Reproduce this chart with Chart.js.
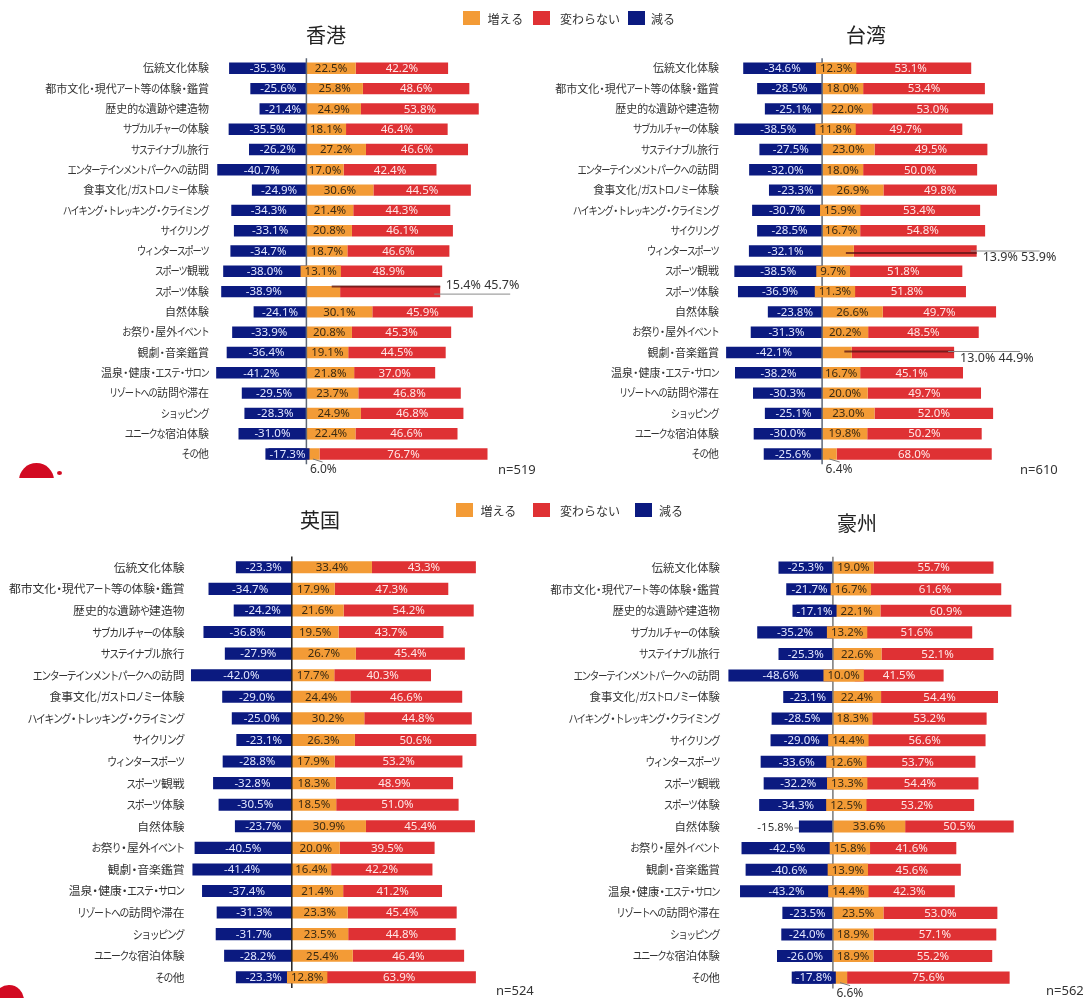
<!DOCTYPE html>
<html lang="ja">
<head>
<meta charset="utf-8">
<script src="https://cdn.jsdelivr.net/npm/chart.js@4.4.1/dist/chart.umd.min.js"></script>
<style>
  body { margin: 0; width: 1092px; height: 998px; background: #fff; position: relative; overflow: hidden;
         font-family: "Noto Sans CJK JP", "Noto Sans", sans-serif; color: #222; }
  canvas { position: absolute; }
  .title { position: absolute; font-size: 20px; transform: translate(-50%, -50%); white-space: nowrap; color: #222; }
  .sw { position: absolute; width: 17px; height: 14px; transform: translateY(-50%); }
  .lt { position: absolute; font-size: 12px; transform: translateY(-50%); white-space: nowrap; color: #333; }
  .n { position: absolute; font-family: "Noto Sans", sans-serif; font-size: 13px; color: #333; transform: translateY(-50%); }
  .logo { position: absolute; overflow: hidden; }
  .logo div { position: absolute; border-radius: 50%; background: #d20a22; }
</style>
</head>
<body>
<canvas id="hk" width="546" height="450" style="left:0;top:40px"></canvas>
<canvas id="tw" width="546" height="450" style="left:546px;top:40px"></canvas>
<canvas id="uk" width="546" height="468" style="left:0;top:530px"></canvas>
<canvas id="au" width="546" height="468" style="left:546px;top:530px"></canvas>

<div class="title" style="left:326px;top:34px">香港</div>
<div class="title" style="left:866px;top:34px">台湾</div>
<div class="title" style="left:320px;top:519px">英国</div>
<div class="title" style="left:857px;top:522px">豪州</div>

<div class="n" style="left:498px;top:469px">n=519</div>
<div class="n" style="left:1020px;top:469px">n=610</div>
<div class="n" style="left:496px;top:990px">n=524</div>
<div class="n" style="left:1046px;top:990px">n=562</div>

<div class="logo" style="left:19px;top:463px;width:46px;height:15px">
  <div style="left:0;top:0;width:35px;height:35px"></div>
  <div style="left:38px;top:8px;width:5px;height:4px"></div>
</div>
<div class="logo" style="left:0;top:985px;width:26px;height:13px">
  <div style="left:-6px;top:0;width:30px;height:30px"></div>
</div>

<script>
const categories = [
  "伝統文化体験", "都市文化・現代アート等の体験・鑑賞", "歴史的な遺跡や建造物", "サブカルチャーの体験",
  "サステイナブル旅行", "エンターテインメントパークへの訪問", "食事文化/ガストロノミー体験",
  "ハイキング・トレッキング・クライミング", "サイクリング", "ウィンタースポーツ", "スポーツ観戦",
  "スポーツ体験", "自然体験", "お祭り・屋外イベント", "観劇・音楽鑑賞", "温泉・健康・エステ・サロン",
  "リゾートへの訪問や滞在", "ショッピング", "ユニークな宿泊体験", "その他"
];
const seriesNames = ["増える", "変わらない", "減る"];
const seriesColors = ["#f39b36", "#df3134", "#0b1a80"];
const seriesTextColors = ["#3a2a12", "#ffe8e8", "#e4e8ff"];

// 香港 n=519
const hkIncrease = [22.5, 25.8, 24.9, 18.1, 27.2, 17.0, 30.6, 21.4, 20.8, 18.7, 13.1, 15.4, 30.1, 20.8, 19.1, 21.8, 23.7, 24.9, 22.4, 6.0];
const hkSame     = [42.2, 48.6, 53.8, 46.4, 46.6, 42.4, 44.5, 44.3, 46.1, 46.6, 48.9, 45.7, 45.9, 45.3, 44.5, 37.0, 46.8, 46.8, 46.6, 76.7];
const hkDecrease = [-35.3, -25.6, -21.4, -35.5, -26.2, -40.7, -24.9, -34.3, -33.1, -34.7, -38.0, -38.9, -24.1, -33.9, -36.4, -41.2, -29.5, -28.3, -31.0, -17.3];

// 台湾 n=610
const twIncrease = [12.3, 18.0, 22.0, 11.8, 23.0, 18.0, 26.9, 15.9, 16.7, 13.9, 9.7, 11.3, 26.6, 20.2, 13.0, 16.7, 20.0, 23.0, 19.8, 6.4];
const twSame     = [53.1, 53.4, 53.0, 49.7, 49.5, 50.0, 49.8, 53.4, 54.8, 53.9, 51.8, 51.8, 49.7, 48.5, 44.9, 45.1, 49.7, 52.0, 50.2, 68.0];
const twDecrease = [-34.6, -28.5, -25.1, -38.5, -27.5, -32.0, -23.3, -30.7, -28.5, -32.1, -38.5, -36.9, -23.8, -31.3, -42.1, -38.2, -30.3, -25.1, -30.0, -25.6];

// 英国 n=524
const ukIncrease = [33.4, 17.9, 21.6, 19.5, 26.7, 17.7, 24.4, 30.2, 26.3, 17.9, 18.3, 18.5, 30.9, 20.0, 16.4, 21.4, 23.3, 23.5, 25.4, 12.8];
const ukSame     = [43.3, 47.3, 54.2, 43.7, 45.4, 40.3, 46.6, 44.8, 50.6, 53.2, 48.9, 51.0, 45.4, 39.5, 42.2, 41.2, 45.4, 44.8, 46.4, 63.9];
const ukDecrease = [-23.3, -34.7, -24.2, -36.8, -27.9, -42.0, -29.0, -25.0, -23.1, -28.8, -32.8, -30.5, -23.7, -40.5, -41.4, -37.4, -31.3, -31.7, -28.2, -23.3];

// 豪州 n=562
const auIncrease = [19.0, 16.7, 22.1, 13.2, 22.6, 10.0, 22.4, 18.3, 14.4, 12.6, 13.3, 12.5, 33.6, 15.8, 13.9, 14.4, 23.5, 18.9, 18.9, 6.6];
const auSame     = [55.7, 61.6, 60.9, 51.6, 52.1, 41.5, 54.4, 53.2, 56.6, 53.7, 54.4, 53.2, 50.5, 41.6, 45.6, 42.3, 53.0, 57.1, 55.2, 75.6];
const auDecrease = [-25.3, -21.7, -17.1, -35.2, -25.3, -48.6, -23.1, -28.5, -29.0, -33.6, -32.2, -34.3, -15.8, -42.5, -40.6, -43.2, -23.5, -24.0, -26.0, -17.8];

// layout of each panel (page pixels)
const panels = {
  hk: { data: [hkIncrease, hkSame, hkDecrease], left: 0, top: 40, h: 450, zero: 306.4, pxPer: 2.19, labelRight: 209,
        row0: 68.3, step: 20.3, labelSize: 11, axis: "#5d6675",
        below: [19], outsideDec: [],
        callouts: [{ row: 11, lineDy: -5, grayDy: 2.5, grayLen: 70, textDx: 5.5, textDy: -6 }] },
  tw: { data: [twIncrease, twSame, twDecrease], left: 546, top: 40, h: 450, zero: 822.1, pxPer: 2.28, labelRight: 719,
        row0: 68.3, step: 20.3, labelSize: 11, axis: "#5d6675",
        below: [19], outsideDec: [],
        callouts: [{ row: 9, lineDy: 2, grayDy: 0, grayLen: 63, textDx: 6, textDy: 6 },
                   { row: 14, lineDy: -1, grayDy: -1, grayLen: 66, textDx: 6, textDy: 6 }] },
  uk: { data: [ukIncrease, ukSame, ukDecrease], left: 0, top: 530, h: 468, zero: 291.8, pxPer: 2.40, labelRight: 184.5,
        row0: 567.3, step: 21.58, labelSize: 11.8, axis: "#222",
        below: [], outsideDec: [], callouts: [] },
  au: { data: [auIncrease, auSame, auDecrease], left: 546, top: 530, h: 468, zero: 832.9, pxPer: 2.15, labelRight: 720,
        row0: 567.6, step: 21.58, labelSize: 11.4, axis: "#777",
        below: [19], outsideDec: [12], callouts: [] }
};

const legendRows = [
  { y: 18, items: [[463, 487.5], [533, 560], [628, 651]] },
  { y: 510, items: [[456, 480.5], [533, 560], [635, 659]] }
];
legendRows.forEach(r => {
  r.items.forEach((it, i) => {
    const sw = document.createElement("div");
    sw.className = "sw";
    sw.style.cssText = `left:${it[0]}px;top:${r.y}px;background:${seriesColors[i]}`;
    document.body.appendChild(sw);
    const t = document.createElement("div");
    t.className = "lt";
    t.style.cssText = `left:${it[1]}px;top:${r.y}px`;
    t.textContent = seriesNames[i];
    document.body.appendChild(t);
  });
});

const fmt = v => v.toFixed(1) + "%";
const valueFont = '11.5px "Noto Sans", sans-serif';

// the original labels use a proportional Japanese font: kana and dots are narrower than kanji
function charMetrics(ch) {
  if (/[\u4e00-\u9fff]/.test(ch)) return { adv: 1, sx: 1 };
  if (ch === "・") return { adv: 0.5, sx: 1 };
  if (/[\u3040-\u30ff]/.test(ch)) return { adv: 0.72, sx: 0.84 };
  return { adv: 0.4, sx: 0.8 };
}

function drawLabel(ctx, text, right, y, size) {
  const chars = [...text].map(ch => ({ ch, ...charMetrics(ch) }));
  let x = right - chars.reduce((s, c) => s + c.adv * size, 0);
  chars.forEach(c => {
    const a = c.adv * size;
    ctx.save();
    ctx.translate(x + a / 2, y);
    ctx.scale(c.sx, 1);
    ctx.fillText(c.ch, 0, 0);
    ctx.restore();
    x += a;
  });
}

const barText = {
  id: "barText",
  afterDatasetsDraw(chart) {
    const p = panels[chart.canvas.id];
    const { ctx, chartArea } = chart;
    const xs = chart.scales.x, ys = chart.scales.y;
    const [inc, same, dec] = p.data;
    const skip = new Set();
    p.callouts.forEach(c => { skip.add("0-" + c.row); skip.add("1-" + c.row); });
    p.below.forEach(r => skip.add("0-" + r));
    p.outsideDec.forEach(r => skip.add("2-" + r));

    ctx.save();
    // category labels
    ctx.font = `${p.labelSize}px "Noto Sans CJK JP", sans-serif`;
    ctx.fillStyle = "#333";
    ctx.textAlign = "center";
    ctx.textBaseline = "middle";
    categories.forEach((name, i) => {
      drawLabel(ctx, name, p.labelRight - p.left, ys.getPixelForValue(i), p.labelSize);
    });

    // zero line
    const zx = xs.getPixelForValue(0);
    ctx.strokeStyle = p.axis;
    ctx.lineWidth = 1.5;
    ctx.beginPath();
    ctx.moveTo(zx, chartArea.top);
    ctx.lineTo(zx, chartArea.bottom);
    ctx.stroke();

    ctx.font = valueFont;
    ctx.textAlign = "center";
    chart.data.datasets.forEach((ds, di) => {
      chart.getDatasetMeta(di).data.forEach((bar, i) => {
        if (skip.has(di + "-" + i)) return;
        const txt = fmt(ds.data[i]);
        const cx = (bar.x + bar.base) / 2;
        const tw = ctx.measureText(txt).width;
        if (tw + 4 > Math.abs(bar.x - bar.base)) {
          ctx.fillStyle = seriesColors[di];
          ctx.fillRect(cx - tw / 2 - 4, bar.y - bar.height / 2, tw + 8, bar.height);
        }
        ctx.fillStyle = seriesTextColors[di];
        ctx.fillText(txt, cx, bar.y + 0.5);
      });
    });

    // labels pushed outside the bars
    p.callouts.forEach(c => {
      const y = ys.getPixelForValue(c.row);
      const end = xs.getPixelForValue(inc[c.row] + same[c.row]);
      const start = xs.getPixelForValue(inc[c.row] * 0.75);
      ctx.strokeStyle = "rgba(90,20,20,0.75)";
      ctx.lineWidth = 2;
      ctx.beginPath(); ctx.moveTo(start, y + c.lineDy); ctx.lineTo(end, y + c.lineDy); ctx.stroke();
      ctx.strokeStyle = "#8a8a8a";
      ctx.lineWidth = 1;
      ctx.beginPath(); ctx.moveTo(end - 6, y + c.grayDy); ctx.lineTo(end + c.grayLen, y + c.grayDy); ctx.stroke();
      ctx.fillStyle = "#333";
      ctx.font = '12.5px "Noto Sans", sans-serif';
      ctx.textAlign = "left";
      ctx.fillText(fmt(inc[c.row]) + " " + fmt(same[c.row]), end + c.textDx, y + c.textDy);
    });
    p.below.forEach(r => {
      const y = ys.getPixelForValue(r);
      ctx.strokeStyle = "#777";
      ctx.lineWidth = 1;
      ctx.beginPath();
      ctx.moveTo(xs.getPixelForValue(inc[r] * 0.5), y + 5);
      ctx.lineTo(xs.getPixelForValue(inc[r]) + 3, y + 8);
      ctx.stroke();
      ctx.fillStyle = "#333";
      ctx.font = '12px "Noto Sans", sans-serif';
      ctx.textAlign = "left";
      ctx.fillText(fmt(inc[r]), zx + 3.5, y + 16);
    });
    p.outsideDec.forEach(r => {
      const y = ys.getPixelForValue(r);
      const x0 = xs.getPixelForValue(dec[r]);
      ctx.strokeStyle = "#777";
      ctx.lineWidth = 1;
      ctx.beginPath(); ctx.moveTo(x0 - 4.5, y + 1.5); ctx.lineTo(x0, y + 1.5); ctx.stroke();
      ctx.fillStyle = "#333";
      ctx.font = '11.5px "Noto Sans", sans-serif';
      ctx.textAlign = "right";
      ctx.fillText(fmt(dec[r]), x0 - 5.5, y + 1.5);
    });
    ctx.restore();
  }
};

Object.keys(panels).forEach(id => {
  const p = panels[id];
  const chartLeft = p.labelRight + 4;
  const chartTop = p.row0 - p.step / 2;
  const padTop = chartTop - p.top;
  const padBottom = p.top + p.h - (chartTop + 20 * p.step);
  new Chart(document.getElementById(id), {
    type: "bar",
    data: {
      labels: categories,
      datasets: seriesNames.map((name, i) => ({
        label: name,
        data: p.data[i],
        backgroundColor: seriesColors[i],
        stack: "s",
        barPercentage: 0.56,
        categoryPercentage: 1
      }))
    },
    options: {
      indexAxis: "y",
      responsive: false,
      animation: false,
      devicePixelRatio: 1,
      layout: { padding: { top: padTop, bottom: padBottom, left: 0, right: 0 } },
      plugins: { legend: { display: false }, tooltip: { enabled: false } },
      scales: {
        x: {
          stacked: true,
          display: false,
          min: -(p.zero - chartLeft) / p.pxPer,
          max: (p.left + 546 - p.zero) / p.pxPer
        },
        y: {
          stacked: true,
          grid: { display: false, drawTicks: false },
          border: { display: false },
          ticks: { display: false },
          afterFit(scale) { scale.width = chartLeft - p.left; }
        }
      }
    },
    plugins: [barText]
  });
});
</script>
</body>
</html>
